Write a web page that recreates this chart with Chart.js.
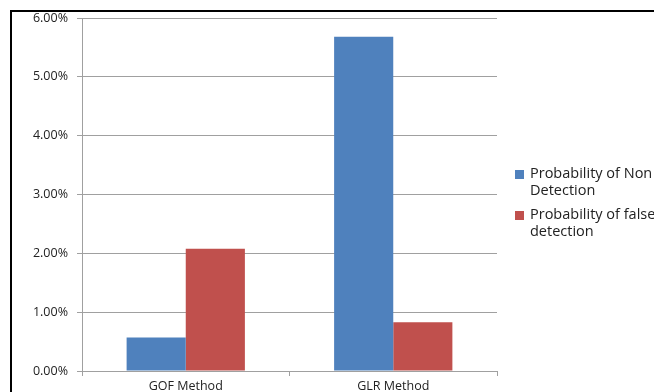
<!DOCTYPE html>
<html>
<head>
<meta charset="utf-8">
<script src="https://cdn.jsdelivr.net/npm/chart.js@4/dist/chart.umd.min.js"></script>
<style>
  html, body { margin: 0; padding: 0; background: #fff; }
  #wrap { position: relative; width: 654px; height: 392px; overflow: hidden; }
  #frame { position: absolute; left: 10px; top: 10px; width: 700px; height: 400px;
           border-left: 2px solid #000; border-top: 2px solid #000; box-sizing: border-box; }
  canvas { position: absolute; left: 0; top: 0; }
</style>
</head>
<body>
<div id="wrap">
  <div id="frame"></div>
  <canvas id="c" width="654" height="392"></canvas>
</div>
<script>
const categories = ['GOF Method', 'GLR Method'];
const seriesNames = [['Probability of Non', 'Detection'], ['Probability of false', 'detection']];
const nonDetection = [0.57, 5.68];
const falseDetection = [2.08, 0.83];
const yTicks = [0, 1, 2, 3, 4, 5, 6];
const colors = ['#4F81BD', '#C0504D'];

const FONT = '"Open Sans", Arial, sans-serif';

// Legend drawn at the right, wrapped onto two lines per entry
const sideLegend = {
  id: 'sideLegend',
  afterDraw(chart) {
    const ctx = chart.ctx;
    ctx.save();
    ctx.font = '14.5px ' + FONT;
    ctx.textBaseline = 'middle';
    const startY = [174, 215];
    seriesNames.forEach((lines, i) => {
      const y = startY[i];
      ctx.fillStyle = colors[i];
      ctx.fillRect(515, y - 4, 9, 9);
      ctx.fillStyle = '#222';
      lines.forEach((t, j) => ctx.fillText(t, 530, y + j * 17));
    });
    ctx.restore();
  }
};

new Chart(document.getElementById('c'), {
  type: 'bar',
  data: {
    labels: categories,
    datasets: [
      { label: seriesNames[0].join(' '), data: nonDetection, backgroundColor: colors[0] },
      { label: seriesNames[1].join(' '), data: falseDetection, backgroundColor: colors[1] }
    ]
  },
  options: {
    responsive: false,
    animation: false,
    devicePixelRatio: 1,
    layout: { padding: { left: 0, right: 157, top: 18, bottom: 0 } },
    datasets: { bar: { categoryPercentage: 0.57, barPercentage: 1.0, borderWidth: 0 } },
    plugins: { legend: { display: false }, tooltip: { enabled: false } },
    scales: {
      x: {
        grid: { display: true, drawOnChartArea: false, offset: true, color: '#a0a0a0', tickLength: 5 },
        border: { color: '#a0a0a0' },
        ticks: { color: '#222', font: { family: FONT, size: 12.5 }, padding: 3 },
        afterFit(s) { s.height = 21; }
      },
      y: {
        min: 0, max: 6,
        afterBuildTicks(s) { s.ticks = yTicks.map(v => ({ value: v })); },
        grid: { color: '#a0a0a0', tickLength: 5 },
        border: { color: '#a0a0a0' },
        ticks: { color: '#222', font: { family: FONT, size: 12.5 }, padding: 9,
                 callback: v => v.toFixed(2) + '%' },
        afterFit(s) { s.width = 82; }
      }
    }
  },
  plugins: [sideLegend]
});
</script>
</body>
</html>
